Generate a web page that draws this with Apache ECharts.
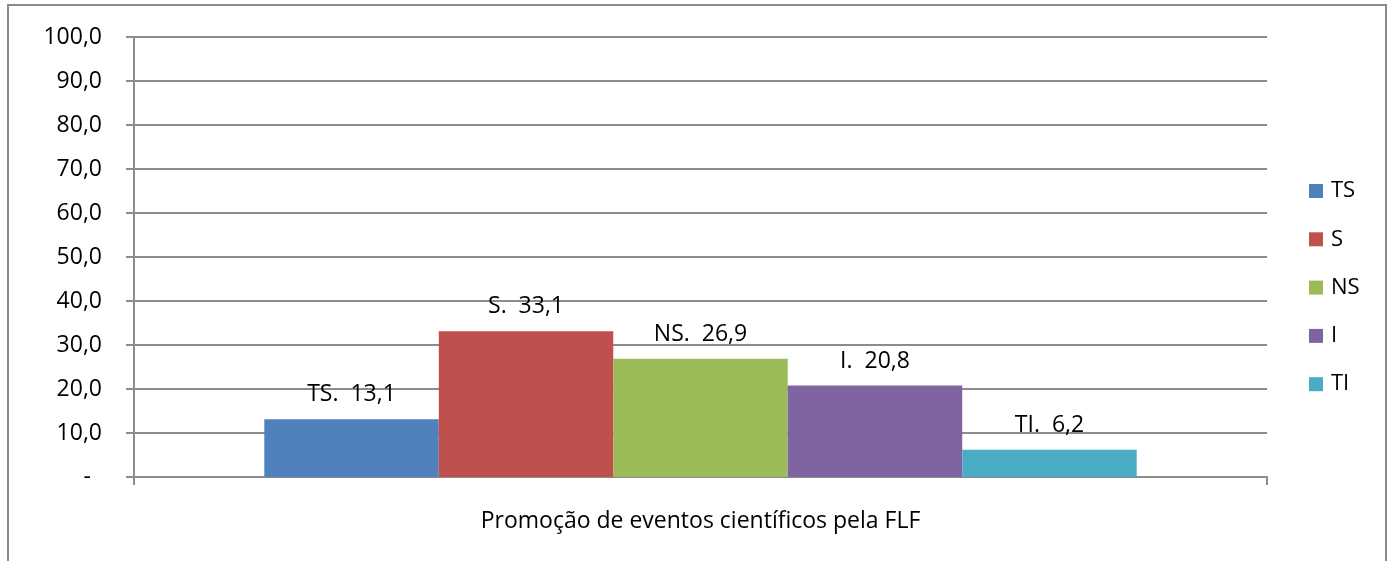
<!DOCTYPE html>
<html>
<head>
<meta charset="utf-8">
<script src="https://cdn.jsdelivr.net/npm/echarts@6/dist/echarts.min.js"></script>
<style>
html, body { margin: 0; padding: 0; background: #fff; }
#chart { width: 1393px; height: 561px; }
</style>
</head>
<body>
<div id="chart"></div>
<script>
// dados do gráfico
var categories = ['Promoção de eventos científicos pela FLF'];
var seriesNames = ['TS', 'S', 'NS', 'I', 'TI'];
var seriesValues = [13.1, 33.1, 26.9, 20.8, 6.2];
var seriesColors = ['#4f81bd', '#c0504d', '#9bbb59', '#8064a2', '#4bacc6'];

var fontFam = '"Open Sans", "Liberation Sans", sans-serif';
var fs = 23;

function fmt(v) {
	return v.toFixed(1).replace('.', ',');
}

var chart = echarts.init(document.getElementById('chart'));

var series = [];
for (var i = 0; i < seriesNames.length; i++) {
	series.push({
		name: seriesNames[i],
		type: 'bar',
		barGap: '0%',
		barCategoryGap: '23%',
		itemStyle: { color: seriesColors[i] },
		label: {
			show: true,
			position: 'top',
			distance: 13,
			color: '#000',
			fontSize: fs,
			fontFamily: fontFam,
			formatter: function (p) {
				return p.seriesName + '.  ' + fmt(p.value);
			}
		},
		data: [seriesValues[i]]
	});
}

var option = {
	animation: false,
	graphic: [{
		type: 'rect',
		z: -10,
		shape: { x: 8, y: 5, width: 1378, height: 620 },
		style: { fill: 'none', stroke: '#8a8a8a', lineWidth: 2 }
	}],
	legend: {
		orient: 'vertical',
		left: 1309,
		top: 180,
		padding: 0,
		itemWidth: 14,
		itemHeight: 14,
		itemGap: 26.3,
		icon: 'rect',
		textStyle: { fontSize: 22, fontFamily: fontFam, color: '#000', padding: [0, 0, 0, 3] },
		data: seriesNames
	},
	grid: {
		left: 134,
		right: 126,
		top: 37,
		bottom: 84
	},
	xAxis: {
		type: 'category',
		data: categories,
		axisLine: { lineStyle: { color: '#8c8c8c', width: 2 } },
		axisTick: { show: true, length: 8, lineStyle: { color: '#8c8c8c', width: 2 } },
		axisLabel: { color: '#000', fontSize: fs, fontFamily: fontFam, margin: 33 }
	},
	yAxis: {
		type: 'value',
		min: 0,
		max: 100,
		interval: 10,
		axisLine: { show: true, lineStyle: { color: '#8c8c8c', width: 2 } },
		axisTick: { show: true, length: 8, lineStyle: { color: '#8c8c8c', width: 2 } },
		splitLine: { lineStyle: { color: '#8c8c8c', width: 2 } },
		axisLabel: {
			color: '#000',
			fontSize: fs,
			fontFamily: fontFam,
			margin: 32,
			formatter: function (v) {
				return v === 0 ? '{d|-}' : fmt(v);
			},
			rich: {
				d: { fontSize: fs, fontFamily: fontFam, color: '#000', padding: [0, 11, 0, 0] }
			}
		}
	},
	series: series
};

chart.setOption(option);
</script>
</body>
</html>
